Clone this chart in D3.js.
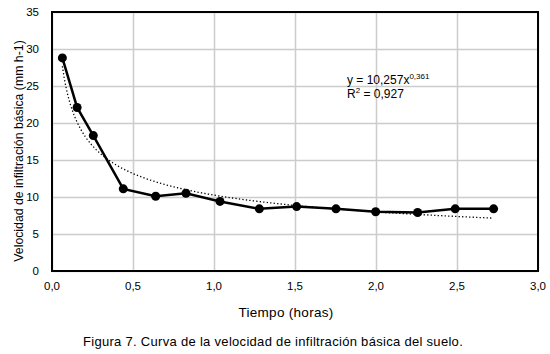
<!DOCTYPE html>
<html>
<head>
<meta charset="utf-8">
<script src="https://cdn.jsdelivr.net/npm/d3@7"></script>
<style>
  body { margin: 0; background: #fff; }
  text { font-family: "Liberation Sans", Arial, sans-serif; fill: #000; }
</style>
</head>
<body>
<svg id="chart" width="550" height="354"></svg>
<script>
// datos
const tiempo = [0.064, 0.155, 0.255, 0.44, 0.64, 0.827, 1.037, 1.28, 1.51, 1.753, 1.998, 2.257, 2.489, 2.726];
const velocidad = [28.8, 22.1, 18.3, 11.1, 10.1, 10.5, 9.4, 8.4, 8.7, 8.4, 8.0, 7.9, 8.4, 8.4];
const xTicks = [0, 0.5, 1, 1.5, 2, 2.5, 3];
const yTicks = [0, 5, 10, 15, 20, 25, 30, 35];
// línea de tendencia potencial (ecuación mostrada en el gráfico)
const coefA = 10.257;
const coefB = -0.361;

const svg = d3.select("#chart");
const plotLeft = 52, plotRight = 538, plotTop = 12, plotBottom = 271;

const x = d3.scaleLinear().domain([0, 3]).range([plotLeft, plotRight]);
const y = d3.scaleLinear().domain([0, 35]).range([plotBottom, plotTop]);
const fmt = d => d3.format(".1f")(d).replace(".", ",");

// rejilla
svg.append("g")
    .attr("transform", `translate(0,${plotBottom})`)
    .call(d3.axisBottom(x).tickValues(xTicks).tickSize(-(plotBottom - plotTop)).tickFormat(""))
    .call(g => g.select(".domain").remove())
    .selectAll("line").attr("stroke", "#cccccc").attr("stroke-width", 1.5);

svg.append("g")
    .attr("transform", `translate(${plotLeft},0)`)
    .call(d3.axisLeft(y).tickValues(yTicks).tickSize(-(plotRight - plotLeft)).tickFormat(""))
    .call(g => g.select(".domain").remove())
    .selectAll("line").attr("stroke", "#cccccc").attr("stroke-width", 1.5);

// etiquetas de ejes
svg.append("g").selectAll("text")
    .data(xTicks)
    .enter()
    .append("text")
    .attr("x", d => x(d))
    .attr("y", 289.5)
    .attr("text-anchor", "middle")
    .style("font-size", "11.5px")
    .text(fmt);

svg.append("g").selectAll("text")
    .data(yTicks)
    .enter()
    .append("text")
    .attr("x", 39)
    .attr("y", d => y(d) + 4)
    .attr("text-anchor", "end")
    .style("font-size", "11.5px")
    .text(d => d);

// tendencia
const trend = d3.range(tiempo[0], tiempo[tiempo.length - 1] + 0.0001, 0.01)
    .map(t => [t, coefA * Math.pow(t, coefB)]);
svg.append("path")
    .datum(trend)
    .attr("fill", "none")
    .attr("stroke", "#000")
    .attr("stroke-width", 1.3)
    .attr("stroke-dasharray", "1.3,2.2")
    .attr("d", d3.line().x(d => x(d[0])).y(d => y(d[1])));

// serie
const pts = tiempo.map((t, i) => [t, velocidad[i]]);
svg.append("path")
    .datum(pts)
    .attr("fill", "none")
    .attr("stroke", "#000")
    .attr("stroke-width", 2.5)
    .attr("d", d3.line().x(d => x(d[0])).y(d => y(d[1])));

svg.append("g").selectAll("circle")
    .data(pts)
    .enter()
    .append("circle")
    .attr("cx", d => x(d[0]))
    .attr("cy", d => y(d[1]))
    .attr("r", 4.5)
    .attr("fill", "#000");

// marco
svg.append("rect")
    .attr("x", plotLeft)
    .attr("y", plotTop)
    .attr("width", plotRight - plotLeft)
    .attr("height", plotBottom - plotTop)
    .attr("fill", "none")
    .attr("stroke", "#000")
    .attr("stroke-width", 2);

// ecuación
const eq = svg.append("text")
    .attr("x", 347)
    .attr("y", 84)
    .style("font-size", "12px");
eq.append("tspan").text("y = 10,257x");
eq.append("tspan").attr("dy", -5).style("font-size", "8px").text("0,361");
const r2 = svg.append("text")
    .attr("x", 347)
    .attr("y", 98)
    .style("font-size", "12px");
r2.append("tspan").text("R");
r2.append("tspan").attr("dy", -5).style("font-size", "8px").text("2");
r2.append("tspan").attr("dy", 5).text(" = 0,927");

// títulos
svg.append("text")
    .attr("x", 286)
    .attr("y", 317)
    .attr("text-anchor", "middle")
    .style("font-size", "13.5px")
    .style("letter-spacing", "0.3px")
    .text("Tiempo (horas)");

svg.append("text")
    .attr("transform", `translate(22.5,151) rotate(-90)`)
    .attr("text-anchor", "middle")
    .style("font-size", "12.3px")
    .text("Velocidad de infiltración básica (mm h-1)");

svg.append("text")
    .attr("x", 273)
    .attr("y", 345.5)
    .attr("text-anchor", "middle")
    .style("font-size", "13px")
    .style("letter-spacing", "0.3px")
    .text("Figura 7. Curva de la velocidad de infiltración básica del suelo.");
</script>
</body>
</html>
